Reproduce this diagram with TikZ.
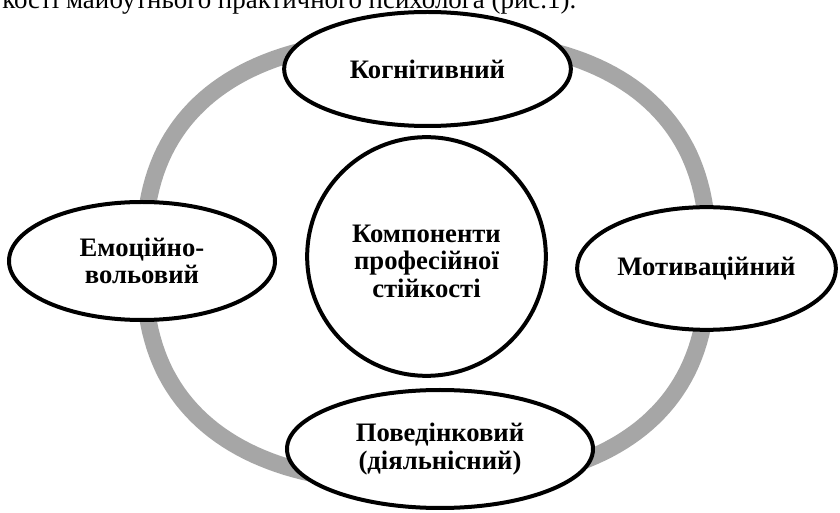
\documentclass[tikz,border=0pt]{standalone}
\usepackage{fontspec}
\setmainfont{Liberation Serif}
\usetikzlibrary{shapes.geometric}
\definecolor{ringgray}{HTML}{A6A6A6}
\begin{document}
\begin{tikzpicture}[x=0.75pt,y=-0.75pt,
  comptext/.style={inner sep=0pt, align=center, font=\bfseries\fontsize{20}{20.6}\selectfont},
  comp/.style={ellipse, draw=black, line width=3pt, fill=white, comptext},
  ring/.style={draw=ringgray, line width=12.75pt}]
\useasboundingbox (0,0) rectangle (840,513);
\fill[white] (0,0) rectangle (840,513);
\begin{scope}
\clip (0,0) rectangle (840,513);
\node[anchor=base west, inner sep=0pt, font=\fontsize{20.2}{22}\selectfont] (caption) at (2,9) {кості майбутнього практичного психолога (рис.1).};
\end{scope}
\draw[ring] plot[domain=0.5:360.5, samples=181] ({426+282*sign(cos(\x))*pow(abs(cos(\x)),0.8)}, {261+222*sign(sin(\x))*pow(abs(sin(\x)),0.8)}) -- cycle;
\node[comp, circle, minimum size=179pt] (center) at (426.5,256.5) {};
\node[comptext] (centertext) at ([yshift=-3.5pt]center.center) {Компоненти\\професійної\\стійкості};
\node[comp, minimum width=215pt, minimum height=85.5pt] (kog) at (427.5,69) {Когнітивний};
\node[comp, minimum width=199.5pt, minimum height=88.5pt] (emo) at (142,261) {Емоційно-\\вольовий};
\node[comp, minimum width=194pt, minimum height=92pt] (mot) at (706.5,268.5) {Мотиваційний};
\node[comp, minimum width=229.5pt, minimum height=88.5pt] (pov) at (440,449) {Поведінковий\\(діяльнісний)};
\end{tikzpicture}
\end{document}
